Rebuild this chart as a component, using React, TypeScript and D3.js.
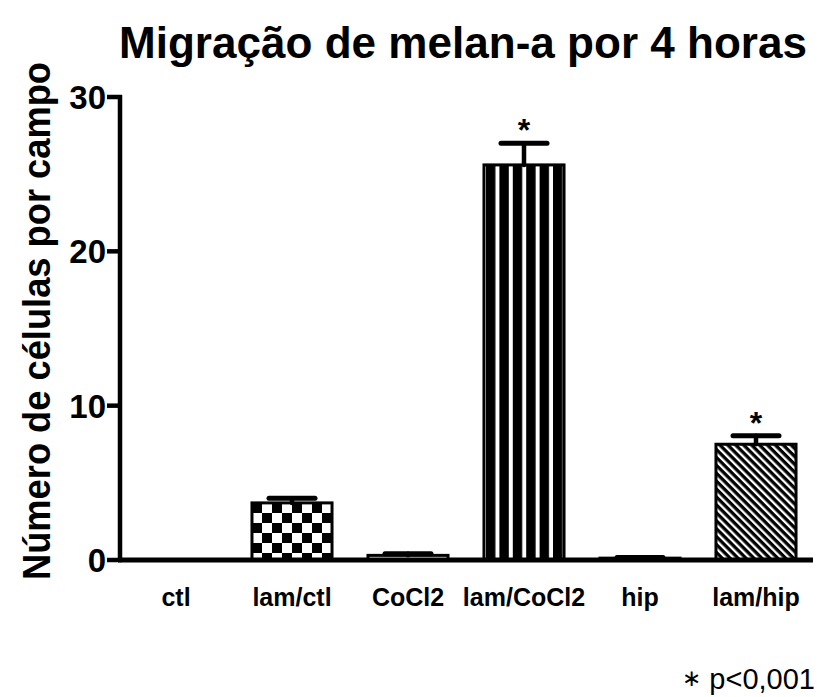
import * as d3 from 'd3';

const categories = ['ctl', 'lam/ctl', 'CoCl2', 'lam/CoCl2', 'hip', 'lam/hip'];
const means = [0, 3.7, 0.3, 25.6, 0.12, 7.5];
const errors = [0, 0.3, 0.1, 1.4, 0.05, 0.55];
const significant = [false, false, false, true, false, true];
const fills = ['white', 'url(#checker)', 'white', 'url(#vstripes)', 'white', 'url(#diag)'];
const yTicks = [0, 10, 20, 30];

const width = 818;
const height = 697;
const font = '"Liberation Sans", Arial, sans-serif';

export default function App() {
  const x = d3
    .scaleBand<string>()
    .domain(categories)
    .range([118, 814])
    .paddingInner(0.31)
    .paddingOuter(0.155);
  const y = d3.scaleLinear().domain([0, 30]).range([560, 97]);
  const bw = x.bandwidth();
  const capW = 46;

  return (
    <svg
      width={width}
      height={height}
      style={{ position: 'absolute', left: 0, top: 0, background: 'white' }}
    >
      <defs>
        <pattern id="checker" width={20} height={20} patternUnits="userSpaceOnUse" x={252} y={503}>
          <rect width={20} height={20} fill="white" />
          <rect width={10} height={10} fill="black" />
          <rect x={10} y={10} width={10} height={10} fill="black" />
        </pattern>
        <pattern id="vstripes" width={13.4} height={10} patternUnits="userSpaceOnUse" x={486}>
          <rect width={13.4} height={10} fill="white" />
          <rect width={9.4} height={10} fill="black" />
        </pattern>
        <pattern
          id="diag"
          width={5.6}
          height={5.6}
          patternUnits="userSpaceOnUse"
          patternTransform="rotate(45)"
        >
          <rect width={5.6} height={5.6} fill="white" />
          <rect width={5.6} height={3.3} fill="black" />
        </pattern>
      </defs>

      <text
        x={463}
        y={58}
        textAnchor="middle"
        fontFamily={font}
        fontWeight="bold"
        fontSize={44}
        textLength={688}
        lengthAdjust="spacingAndGlyphs"
      >
        Migração de melan-a por 4 horas
      </text>

      <text
        transform="translate(50, 321) rotate(-90)"
        textAnchor="middle"
        fontFamily={font}
        fontWeight="bold"
        fontSize={38}
        textLength={518}
        lengthAdjust="spacingAndGlyphs"
      >
        Número de células por campo
      </text>

      {/* bars */}
      {categories.map((c, i) => {
        const x0 = x(c) ?? 0;
        const top = y(means[i]);
        const cap = y(means[i] + errors[i]);
        const cx = x0 + bw / 2;
        return (
          <g key={c}>
            {means[i] > 0 && (
              <rect
                x={x0}
                y={top}
                width={bw}
                height={560 - top}
                fill={fills[i]}
                stroke="black"
                strokeWidth={3}
              />
            )}
            {errors[i] > 0 && (
              <g stroke="black" strokeLinecap="round">
                <line x1={cx} x2={cx} y1={top} y2={cap} strokeWidth={4.5} />
                <line x1={cx - capW / 2} x2={cx + capW / 2} y1={cap} y2={cap} strokeWidth={5} />
              </g>
            )}
            {significant[i] && (
              <text
                x={cx}
                y={cap - 2}
                textAnchor="middle"
                fontFamily={font}
                fontWeight="bold"
                fontSize={32}
              >
                *
              </text>
            )}
            <text
              x={cx}
              y={606}
              textAnchor="middle"
              fontFamily={font}
              fontWeight="bold"
              fontSize={25}
            >
              {c}
            </text>
          </g>
        );
      })}

      {/* axes */}
      <line x1={120} x2={120} y1={y(30) - 2} y2={562} stroke="black" strokeWidth={4.5} />
      <line x1={118} x2={813} y1={560} y2={560} stroke="black" strokeWidth={5} />
      {yTicks.map((t) => (
        <g key={t}>
          <line x1={107} x2={122} y1={y(t)} y2={y(t)} stroke="black" strokeWidth={4.5} />
          <text
            x={106}
            y={y(t)}
            dy="0.36em"
            textAnchor="end"
            fontFamily={font}
            fontWeight="bold"
            fontSize={33}
          >
            {t}
          </text>
        </g>
      ))}

      <text x={815} y={689} textAnchor="end" fontFamily={font} fontSize={29}>
        <tspan fontSize={23} dy={-3}>∗</tspan>
        <tspan dy={3}> p&lt;0,001</tspan>
      </text>
    </svg>
  );
}
